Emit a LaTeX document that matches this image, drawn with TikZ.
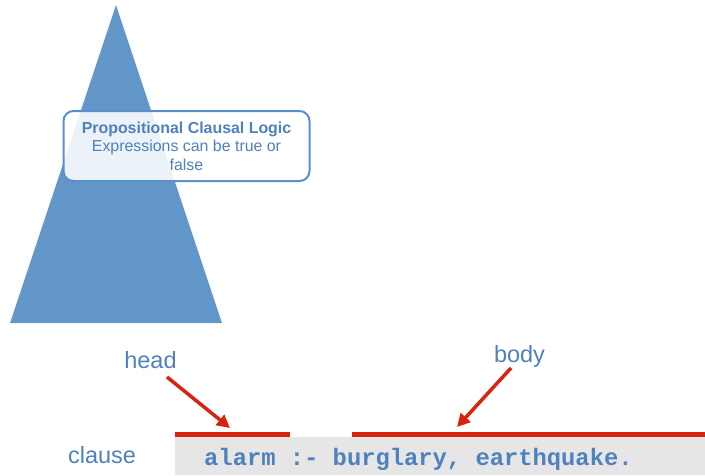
\documentclass[tikz,border=0pt]{standalone}
\usepackage{fontspec}
\setmainfont{Liberation Sans}
\setmonofont{Liberation Mono}
\usetikzlibrary{arrows.meta,positioning}
\definecolor{pyramidblue}{RGB}{98,150,200}
\definecolor{labelblue}{RGB}{79,129,189}
\definecolor{frameblue}{RGB}{91,143,203}
\definecolor{markred}{RGB}{214,36,14}
\definecolor{codegray}{RGB}{230,230,230}
\tikzset{
  lbl/.style={text=labelblue,font=\fontsize{23.5}{26}\selectfont,inner sep=0pt},
  underline/.style={draw=markred,line width=4.5pt},
  pointer/.style={draw=markred,line width=3.5pt,-{Triangle[length=13pt,width=13pt]}}
}
\begin{document}
\begin{tikzpicture}[x=1pt,y=-1pt]
\useasboundingbox (0,0) rectangle (705,475);
% pyramid
\fill[pyramidblue] (116,5) -- (222,323) -- (10,323) -- cycle;
\node[draw=frameblue,line width=2pt,rounded corners=10pt,fill=white,fill opacity=0.88,text opacity=1,
  minimum width=246pt,minimum height=70pt,align=center,text=labelblue,
  font=\fontsize{15.9}{18.5}\selectfont] (logic) at (186.5,146)
  {\textbf{Propositional Clausal Logic}\\Expressions can be true or\\false};
% clause line
\fill[codegray] (175,437) rectangle (705,475);
\node[lbl,anchor=base] (clause) at (102,463) {clause};
\node[anchor=base west,inner sep=0pt,text=labelblue,
  font=\ttfamily\bfseries\fontsize{23.8}{26}\selectfont] (code) at (204,465) {alarm :- burglary, earthquake.};
\node[lbl,anchor=base] (head) at (150.5,368) {head};
\node[lbl,anchor=base] (body) at (519.5,362) {body};
\coordinate (headtail) at (167,377);
\coordinate (headtip) at (230,428);
\coordinate (bodytail) at (511,368);
\coordinate (bodytip) at (457,427);
\draw[underline] (175,434.5) -- (290,434.5);
\draw[underline] (352,434.5) -- (705,434.5);
\draw[pointer] (headtail) -- (headtip);
\draw[pointer] (bodytail) -- (bodytip);
\end{tikzpicture}
\end{document}
